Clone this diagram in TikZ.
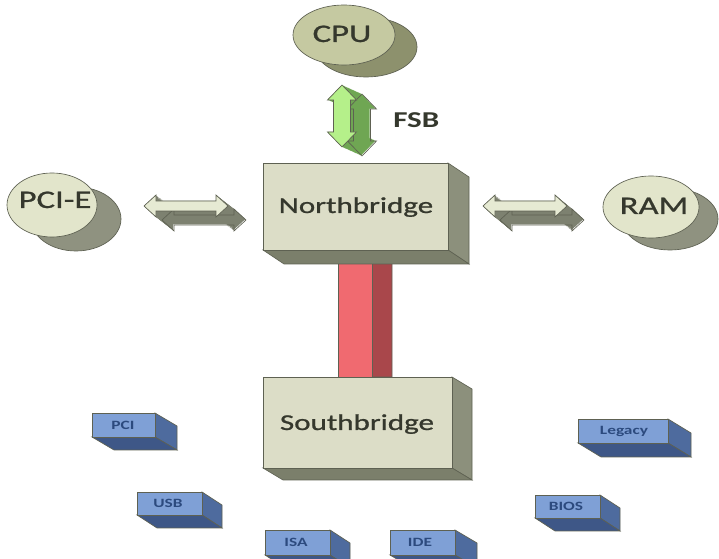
\documentclass[tikz,border=0pt]{standalone}
\usepackage{fontspec}
\setmainfont{Carlito}[FakeStretch=1.37]
\newfontfamily\medfont{Carlito}[FakeStretch=1.37,FakeBold=0.9]
\definecolor{beige}{HTML}{DCDDC7}
\definecolor{bside}{HTML}{8C907C}
\definecolor{bbot}{HTML}{7B7F6B}
\definecolor{edge}{HTML}{5E6152}
\definecolor{cpufront}{HTML}{C5C9A1}
\definecolor{cpushade}{HTML}{8D916D}
\definecolor{elfront}{HTML}{E2E5CB}
\definecolor{elshade}{HTML}{8F9280}
\definecolor{harlight}{HTML}{E6EAD3}
\definecolor{hardark}{HTML}{7D8170}
\definecolor{fsblight}{HTML}{B5F08A}
\definecolor{fsbdark}{HTML}{6FA653}
\definecolor{redfront}{HTML}{F06A70}
\definecolor{redside}{HTML}{A9474B}
\definecolor{bluefront}{HTML}{7FA0D6}
\definecolor{blueside}{HTML}{4E6B9E}
\definecolor{bluebot}{HTML}{3E5787}
\definecolor{bluetext}{HTML}{2C4A7E}
\definecolor{labtext}{HTML}{35382D}
% 3D box: x1 y1 x2 y2 dx dy front side bottom
\newcommand\tdbox[9]{%
  \filldraw[fill=#8,draw=edge,line width=0.5pt] (#3,#2) -- (#3+#5,#2+#6) -- (#3+#5,#4+#6) -- (#3,#4) -- cycle;
  \filldraw[fill=#9,draw=edge,line width=0.5pt] (#1,#4) -- (#3,#4) -- (#3+#5,#4+#6) -- (#1+#5,#4+#6) -- cycle;
  \filldraw[fill=#7,draw=edge,line width=0.5pt] (#1,#2) rectangle (#3,#4);
}
\newcommand\harrowpath[2]{(#1-42,#2) -- (#1-30,#2-11) -- (#1-30,#2-5) -- (#1+30,#2-5) -- (#1+30,#2-11) -- (#1+42,#2) -- (#1+30,#2+11) -- (#1+30,#2+5) -- (#1-30,#2+5) -- (#1-30,#2+11) -- cycle}
\newcommand\varrowpath[2]{(#1,#2-31) -- (#1+14.5,#2-16) -- (#1+8.5,#2-16) -- (#1+8.5,#2+16) -- (#1+14.5,#2+16) -- (#1,#2+31) -- (#1-14.5,#2+16) -- (#1-8.5,#2+16) -- (#1-8.5,#2-16) -- (#1-14.5,#2-16) -- cycle}
\tikzset{
  biglabel/.style={font=\medfont\fontsize{19}{21}\selectfont, text=labtext, inner sep=0pt},
  boxlabel/.style={font=\medfont\fontsize{17}{19}\selectfont, text=labtext, inner sep=0pt},
  smalllabel/.style={font=\fontsize{9.5}{11}\selectfont\bfseries, text=bluetext, inner sep=0pt},
}
\begin{document}
\begin{tikzpicture}[x=0.75pt,y=-0.75pt]
\useasboundingbox (0,0) rectangle (719,559);
\clip (0,0) rectangle (719,559);
\fill[white] (0,0) rectangle (719,559);

% ---- ellipses ----
\filldraw[fill=cpushade,draw=edge,line width=0.5pt] (366,47) ellipse [x radius=51,y radius=30];
\filldraw[fill=cpufront,draw=edge,line width=0.5pt] (344,35) ellipse [x radius=51,y radius=30];
\node[biglabel,anchor=base] (cpu) at (342,42) {CPU};

\filldraw[fill=elshade,draw=edge,line width=0.5pt] (76,219) ellipse [x radius=45,y radius=32];
\filldraw[fill=elfront,draw=edge,line width=0.5pt] (52,205) ellipse [x radius=45,y radius=32];
\node[biglabel,anchor=base] (pcie) at (55,208) {PCI-E};

\filldraw[fill=elshade,draw=edge,line width=0.5pt] (670,219) ellipse [x radius=48,y radius=31];
\filldraw[fill=elfront,draw=edge,line width=0.5pt] (651,207) ellipse [x radius=48,y radius=31];
\node[biglabel,anchor=base] (ram) at (654,214) {RAM};

% ---- FSB arrow ----
\foreach \t in {0,0.05,...,1.0}
  \fill[fsbdark,shift={(\t*20,\t*9)}] \varrowpath{342}{116};
\draw[edge,line width=0.5pt,shift={(20,9)}] \varrowpath{342}{116};
\filldraw[fill=fsblight,draw=edge,line width=0.5pt] \varrowpath{342}{116};
\node[font=\fontsize{17}{19}\selectfont\bfseries,text=labtext,inner sep=0pt,anchor=base west] (fsb) at (393,128) {FSB};

% ---- horizontal arrows ----
\foreach \t in {0,0.05,...,1.0}
  \fill[hardark,shift={(\t*18,\t*14)}] \harrowpath{186}{206};
\draw[edge,line width=0.5pt,shift={(18,14)}] \harrowpath{186}{206};
\filldraw[fill=harlight,draw=edge,line width=0.5pt] \harrowpath{186}{206};

\foreach \t in {0,0.05,...,1.0}
  \fill[hardark,shift={(\t*17,\t*14)}] \harrowpath{525}{206};
\draw[edge,line width=0.5pt,shift={(17,14)}] \harrowpath{525}{206};
\filldraw[fill=harlight,draw=edge,line width=0.5pt] \harrowpath{525}{206};

% ---- red bus ----
\filldraw[fill=redside,draw=edge,line width=0.5pt] (372,250) -- (392,262) -- (392,377) -- (372,377) -- cycle;
\filldraw[fill=redfront,draw=edge,line width=0.5pt] (338,250) rectangle (372,377);

% ---- bridges ----
\tdbox{263}{163}{448}{250}{21}{14}{beige}{bside}{bbot}
\node[boxlabel,anchor=base] (nb) at (356,213) {Northbridge};
\tdbox{263}{377}{452}{468}{20}{12}{beige}{bside}{bbot}
\node[boxlabel,anchor=base] (sb) at (357,430) {Southbridge};

% ---- small blue boxes ----
\tdbox{92}{413}{155}{437}{22}{13}{bluefront}{blueside}{bluebot}
\node[smalllabel] (pci) at (123,425) {PCI};
\tdbox{137}{492}{202}{515}{20}{13}{bluefront}{blueside}{bluebot}
\node[smalllabel] (usb) at (168,503) {USB};
\tdbox{265}{530}{330}{555}{20}{13}{bluefront}{blueside}{bluebot}
\node[smalllabel] (isa) at (296,542) {ISA};
\tdbox{390}{530}{455}{555}{22}{13}{bluefront}{blueside}{bluebot}
\node[smalllabel] (ide) at (420,542) {IDE};
\tdbox{535}{495}{600}{518}{20}{13}{bluefront}{blueside}{bluebot}
\node[smalllabel] (bios) at (566,506) {BIOS};
\tdbox{578}{419}{668}{443}{23}{14}{bluefront}{blueside}{bluebot}
\node[smalllabel] (legacy) at (624,431) {Legacy};
\end{tikzpicture}
\end{document}
